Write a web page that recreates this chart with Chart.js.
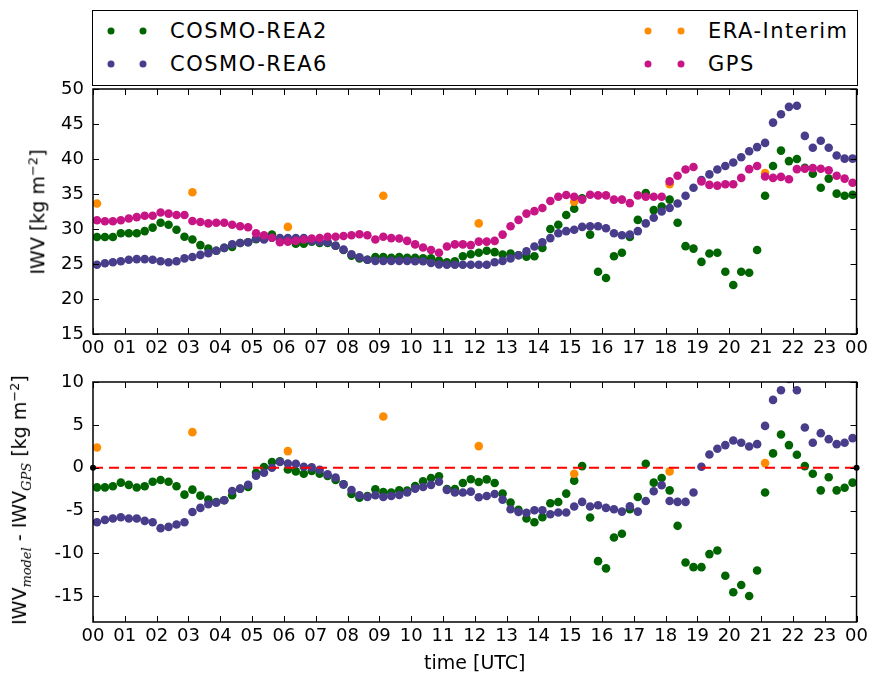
<!DOCTYPE html>
<html>
<head>
<meta charset="utf-8">
<script src="https://cdn.jsdelivr.net/npm/chart.js@4.4.1/dist/chart.umd.min.js"></script>
<style>
  body { margin: 0; background: #fff; }
  #wrap { position: relative; width: 872px; height: 679px; background: #fff; font-family: "DejaVu Sans", sans-serif; color: #000; }
  canvas { position: absolute; left: 0; }
  #topChart { top: 0; }
  #bottomChart { top: 360px; }
  #legend { position: absolute; left: 92px; top: 10px; width: 764px; height: 74px; border: 1.5px solid #000; }
  .entry { position: absolute; font-size: 21px; letter-spacing: 1.5px; line-height: 24px; white-space: nowrap; transform: translateY(-50%); }
  .dot { position: absolute; width: 7px; height: 7px; border-radius: 50%; transform: translate(-50%, -50%); }
  .ylab { position: absolute; font-size: 19px; white-space: nowrap; transform: translate(-50%, -50%) rotate(-90deg); }
  .ylab i { font-family: "DejaVu Serif", serif; font-size: 13px; }
  .ylab sup { font-size: 13px; }
</style>
</head>
<body>
<div id="wrap">
  <div id="legend"></div>
  <canvas id="topChart" width="872" height="360"></canvas>
  <canvas id="bottomChart" width="872" height="319"></canvas>
  <div class="ylab" style="left:37px; top:212px;">IWV [kg m<sup>&minus;2</sup>]</div>
  <div class="ylab" style="left:21px; top:500px;">IWV<sub><i>model</i></sub> - IWV<sub><i>GPS</i></sub> [kg m<sup>&minus;2</sup>]</div>
</div>

<script>
//Series names and colours
const seriesNames = ['COSMO-REA2', 'COSMO-REA6', 'ERA-Interim', 'GPS'];
const seriesColors = ['#006400', '#483D8B', '#FF8C00', '#C71585'];

//Time stamps [hours UTC] of the 15 min model / GPS values
const modelTimes = [
  0.125, 0.375, 0.625, 0.875, 1.125, 1.375, 1.625, 1.875,
  2.125, 2.375, 2.625, 2.875, 3.125, 3.375, 3.625, 3.875,
  4.125, 4.375, 4.625, 4.875, 5.125, 5.375, 5.625, 5.875,
  6.125, 6.375, 6.625, 6.875, 7.125, 7.375, 7.625, 7.875,
  8.125, 8.375, 8.625, 8.875, 9.125, 9.375, 9.625, 9.875,
  10.125, 10.375, 10.625, 10.875, 11.125, 11.375, 11.625, 11.875,
  12.125, 12.375, 12.625, 12.875, 13.125, 13.375, 13.625, 13.875,
  14.125, 14.375, 14.625, 14.875, 15.125, 15.375, 15.625, 15.875,
  16.125, 16.375, 16.625, 16.875, 17.125, 17.375, 17.625, 17.875,
  18.125, 18.375, 18.625, 18.875, 19.125, 19.375, 19.625, 19.875,
  20.125, 20.375, 20.625, 20.875, 21.125, 21.375, 21.625, 21.875,
  22.125, 22.375, 22.625, 22.875, 23.125, 23.375, 23.625, 23.875,
];
//ERA-Interim is 3-hourly
const eraTimes = [0.125, 3.125, 6.125, 9.125, 12.125, 15.125, 18.125, 21.125];

//IWV [kg m-2]
const rea2Iwv = [
  28.85, 28.85, 28.85, 29.4, 29.4, 29.4, 29.7, 30.2, 30.9, 30.6, 29.9, 28.9,
  28.5, 27.7, 27.2, 26.9, 27.3, 27.45, 28.0, 28.1, 28.55, 28.9, 29.2, 28.5,
  28.3, 27.9, 27.9, 28.2, 28.0, 28.0, 27.6, 27.0, 26.2, 25.8, 25.6, 26.0,
  26.0, 25.9, 26.0, 25.9, 25.9, 25.8, 25.8, 25.5, 25.25, 25.4, 26.1, 26.4,
  26.6, 26.9, 26.7, 26.35, 26.5, 26.25, 26.05, 26.1, 27.3, 30.0, 30.6, 32.0,
  32.9, 34.4, 29.2, 23.9, 23.0, 26.1, 26.6, 28.85, 31.3, 35.15, 32.7, 33.2,
  34.2, 30.9, 27.55, 27.2, 25.3, 26.5, 26.6, 23.9, 22.0, 23.9, 23.75, 27.0,
  34.75, 39.0, 41.2, 39.7, 40.0, 38.75, 37.9, 35.9, 37.2, 35.05, 34.75, 34.9,
];
const rea6Iwv = [
  24.9, 25.1, 25.25, 25.4, 25.6, 25.7, 25.7, 25.6, 25.4, 25.25, 25.4, 25.8,
  26.0, 26.3, 26.55, 26.9, 27.3, 27.8, 28.0, 28.1, 28.6, 28.5, 28.75, 28.7,
  28.7, 28.7, 28.7, 28.3, 28.2, 28.1, 27.6, 27.05, 26.4, 25.95, 25.6, 25.45,
  25.45, 25.45, 25.45, 25.45, 25.4, 25.4, 25.15, 24.95, 24.9, 24.9, 24.9, 24.9,
  24.9, 24.9, 25.25, 25.45, 25.8, 26.25, 26.8, 27.5, 28.1, 28.7, 29.4, 29.7,
  29.9, 30.3, 30.4, 30.4, 30.1, 29.4, 29.1, 29.2, 29.7, 30.8, 31.6, 32.5,
  33.0, 33.65, 34.75, 35.9, 37.0, 37.8, 38.5, 39.0, 39.5, 40.25, 41.1, 41.7,
  42.3, 45.2, 46.4, 47.45, 47.6, 43.3, 41.6, 42.6, 41.6, 40.5, 40.05, 40.05,
];
const eraIwv = [33.65, 35.25, 30.3, 34.75, 30.8, 33.9, 36.4, 38.0];
const gpsIwv = [
  31.25, 31.1, 31.1, 31.25, 31.5, 31.7, 31.9, 31.9, 32.35, 32.2, 32.0, 32.0,
  31.15, 31.0, 30.8, 30.9, 30.9, 30.6, 30.4, 30.25, 29.4, 29.1, 28.75, 28.1,
  28.2, 28.3, 28.5, 28.65, 28.7, 28.9, 28.9, 29.0, 29.1, 29.25, 29.1, 28.5,
  28.9, 28.7, 28.65, 28.3, 27.8, 27.35, 27.0, 26.6, 27.5, 27.8, 27.8, 27.7,
  28.2, 28.2, 28.3, 29.2, 30.4, 31.3, 32.2, 32.55, 33.0, 34.0, 34.6, 34.85,
  34.6, 34.2, 34.9, 34.8, 34.8, 34.2, 34.2, 33.7, 34.8, 34.6, 34.6, 34.6,
  36.8, 37.6, 38.5, 38.85, 36.8, 36.3, 36.2, 36.4, 36.4, 37.3, 38.55, 39.0,
  37.5, 37.3, 37.45, 37.1, 38.55, 38.6, 38.7, 38.6, 38.4, 37.6, 37.2, 36.6,
];

//IWV model - IWV GPS [kg m-2]
const rea2Diff = [
  -2.29, -2.29, -2.17, -1.74, -2.0, -2.3, -2.17, -1.63, -1.43, -1.63, -2.17, -3.14,
  -2.56, -3.26, -3.72, -4.0, -3.8, -3.2, -2.45, -2.25, -0.58, 0.08, 0.66, 0.74,
  -0.2, -0.43, -0.7, -0.39, -0.7, -0.97, -1.43, -1.94, -3.06, -3.49, -3.3, -2.52,
  -2.83, -2.9, -2.64, -2.67, -2.13, -1.59, -1.2, -1.0, -2.48, -2.48, -1.78, -1.34,
  -1.67, -1.36, -1.78, -3.02, -4.07, -4.92, -5.93, -6.36, -5.78, -4.15, -4.0, -3.02,
  -1.51, 0.19, -5.81, -10.9, -11.74, -8.14, -7.71, -4.84, -3.41, 0.47, -1.74, -1.2,
  -2.64, -6.78, -11.05, -11.6, -11.6, -10.08, -9.65, -12.6, -14.53, -13.68, -14.96, -12.0,
  -2.9, 1.67, 3.88, 2.64, 1.51, 0.19, -0.7, -2.64, -1.12, -2.64, -2.33, -1.74,
];
const rea6Diff = [
  -6.36, -6.09, -5.93, -5.78, -5.93, -5.93, -6.2, -6.36, -7.05, -6.9, -6.63, -6.36,
  -5.16, -4.69, -4.26, -4.07, -3.8, -2.71, -2.44, -1.98, -0.93, -0.58, 0.0, 0.66,
  0.5, 0.47, 0.12, 0.04, -0.23, -0.78, -1.16, -1.94, -2.6, -3.22, -3.41, -3.22,
  -3.41, -3.3, -3.18, -2.9, -2.44, -2.25, -2.0, -1.63, -2.6, -2.9, -2.9, -2.79,
  -3.45, -3.3, -3.06, -3.72, -4.84, -5.16, -5.27, -4.96, -4.96, -5.43, -5.23, -5.23,
  -4.53, -3.99, -4.53, -4.38, -4.69, -4.84, -5.12, -4.5, -5.12, -3.88, -2.75, -2.05,
  -3.88, -3.99, -3.99, -2.9, 0.12, 1.55, 2.21, 2.64, 3.18, 2.91, 2.48, 2.75,
  4.88, 7.91, 9.03, 10.35, 9.03, 4.69, 2.91, 4.03, 3.33, 2.75, 2.91, 3.45,
];
const eraDiff = [2.36, 4.15, 1.94, 5.97, 2.52, -0.7, -0.43, 0.54];

//Zero reference line of the lower panel
const zeroLineX = [0, 24];
const zeroLineY = [0, 0];

//Axis ticks
const xTicks = [0, 1, 2, 3, 4, 5, 6, 7, 8, 9, 10, 11, 12, 13, 14, 15, 16, 17, 18, 19, 20, 21, 22, 23, 24];
const xTickLabels = ['00', '01', '02', '03', '04', '05', '06', '07', '08', '09', '10', '11', '12',
  '13', '14', '15', '16', '17', '18', '19', '20', '21', '22', '23', '00'];
const topYTicks = [15, 20, 25, 30, 35, 40, 45, 50];
const bottomYTicks = [-15, -10, -5, 0, 5, 10];

const tickFont = { family: 'DejaVu Sans', size: 18 };

//Pair x and y lists into points
function toPoints(xs, ys) {
  return xs.map((x, i) => ({ x: x, y: ys[i] }));
}

//Build the four-entry legend box from the series lists
function buildLegend() {
  const slots = [
    { dots: [18, 50], textX: 77, y: 20 },
    { dots: [18, 50], textX: 77, y: 53 },
    { dots: [555, 588], textX: 615, y: 20 },
    { dots: [555, 588], textX: 615, y: 53 },
  ];
  const box = document.getElementById('legend');
  seriesNames.forEach((name, i) => {
    const s = slots[i];
    s.dots.forEach((dx) => {
      const d = document.createElement('span');
      d.className = 'dot';
      d.style.left = dx + 'px';
      d.style.top = s.y + 'px';
      d.style.background = seriesColors[i];
      box.appendChild(d);
    });
    const t = document.createElement('span');
    t.className = 'entry';
    t.style.left = s.textX + 'px';
    t.style.top = s.y + 'px';
    t.textContent = name;
    box.appendChild(t);
  });
}

//Black frame and inward ticks (classic matplotlib look)
const frameTicks = {
  id: 'frameTicks',
  afterDatasetsDraw(chart) {
    const { ctx, chartArea: a, scales } = chart;
    ctx.save();
    ctx.strokeStyle = '#000';
    ctx.lineWidth = 1;
    ctx.beginPath();
    scales.x.ticks.forEach((t) => {
      const px = Math.round(scales.x.getPixelForValue(t.value)) + 0.5;
      ctx.moveTo(px, a.bottom);
      ctx.lineTo(px, a.bottom - 6);
      ctx.moveTo(px, a.top);
      ctx.lineTo(px, a.top + 6);
    });
    scales.y.ticks.forEach((t) => {
      const py = Math.round(scales.y.getPixelForValue(t.value)) + 0.5;
      ctx.moveTo(a.left, py);
      ctx.lineTo(a.left + 6, py);
      ctx.moveTo(a.right, py);
      ctx.lineTo(a.right - 6, py);
    });
    ctx.stroke();
    ctx.lineWidth = 1.5;
    ctx.strokeRect(a.left, a.top, a.right - a.left, a.bottom - a.top);
    ctx.restore();
  },
};

function scatterSet(label, xs, ys, colorIndex, order) {
  return {
    label: label,
    data: toPoints(xs, ys),
    backgroundColor: seriesColors[colorIndex],
    borderColor: seriesColors[colorIndex],
    borderWidth: 0,
    pointRadius: 4.3,
    order: order,
    clip: 0,
  };
}

function xScale(extra) {
  return Object.assign({
    type: 'linear',
    min: 0,
    max: 24,
    afterBuildTicks: (s) => { s.ticks = xTicks.map((v) => ({ value: v })); },
    ticks: {
      autoSkip: false,
      maxRotation: 0,
      color: '#000',
      font: tickFont,
      padding: 4,
      callback: (v) => xTickLabels[xTicks.indexOf(v)],
    },
    grid: { display: false, drawTicks: false },
    border: { display: false },
  }, extra);
}

function yScale(min, max, tickList) {
  return {
    type: 'linear',
    min: min,
    max: max,
    afterBuildTicks: (s) => { s.ticks = tickList.map((v) => ({ value: v })); },
    afterFit: (s) => { s.width = 93; },
    ticks: { color: '#000', font: tickFont, padding: 9 },
    grid: { display: false, drawTicks: false },
    border: { display: false },
  };
}

const commonOptions = {
  responsive: false,
  animation: false,
  plugins: { legend: { display: false }, tooltip: { enabled: false } },
};

//Upper panel: IWV
function createTopChart() {
  return new Chart(document.getElementById('topChart').getContext('2d'), {
    type: 'scatter',
    data: {
      datasets: [
        scatterSet(seriesNames[0], modelTimes, rea2Iwv, 0, 4),
        scatterSet(seriesNames[1], modelTimes, rea6Iwv, 1, 3),
        scatterSet(seriesNames[2], eraTimes, eraIwv, 2, 2),
        scatterSet(seriesNames[3], modelTimes, gpsIwv, 3, 1),
      ],
    },
    options: Object.assign({}, commonOptions, {
      layout: { padding: { top: 89, right: 14, bottom: 0, left: 0 } },
      scales: {
        x: xScale({ afterFit: (s) => { s.height = 26; } }),
        y: yScale(15, 50, topYTicks),
      },
    }),
    plugins: [frameTicks],
  });
}

//Lower panel: difference to GPS
function createBottomChart() {
  return new Chart(document.getElementById('bottomChart').getContext('2d'), {
    type: 'scatter',
    data: {
      datasets: [
        {
          label: 'zero',
          data: toPoints(zeroLineX, zeroLineY),
          showLine: true,
          borderColor: '#ff0000',
          borderWidth: 2,
          borderDash: [10, 6],
          pointRadius: 3,
          pointBackgroundColor: '#000',
          pointBorderWidth: 0,
          order: 0,
          clip: false,
        },
        scatterSet(seriesNames[0], modelTimes, rea2Diff, 0, 4),
        scatterSet(seriesNames[1], modelTimes, rea6Diff, 1, 3),
        scatterSet(seriesNames[2], eraTimes, eraDiff, 2, 2),
      ],
    },
    options: Object.assign({}, commonOptions, {
      layout: { padding: { top: 22, right: 14, bottom: 0, left: 0 } },
      scales: {
        x: xScale({
          afterFit: (s) => { s.height = 57; },
          title: {
            display: true,
            text: 'time [UTC]',
            color: '#000',
            font: { family: 'DejaVu Sans', size: 19 },
            padding: { top: 0, bottom: 4 },
          },
        }),
        y: yScale(-18, 10, bottomYTicks),
      },
    }),
    plugins: [frameTicks],
  });
}

buildLegend();
createTopChart();
createBottomChart();
</script>
</body>
</html>
